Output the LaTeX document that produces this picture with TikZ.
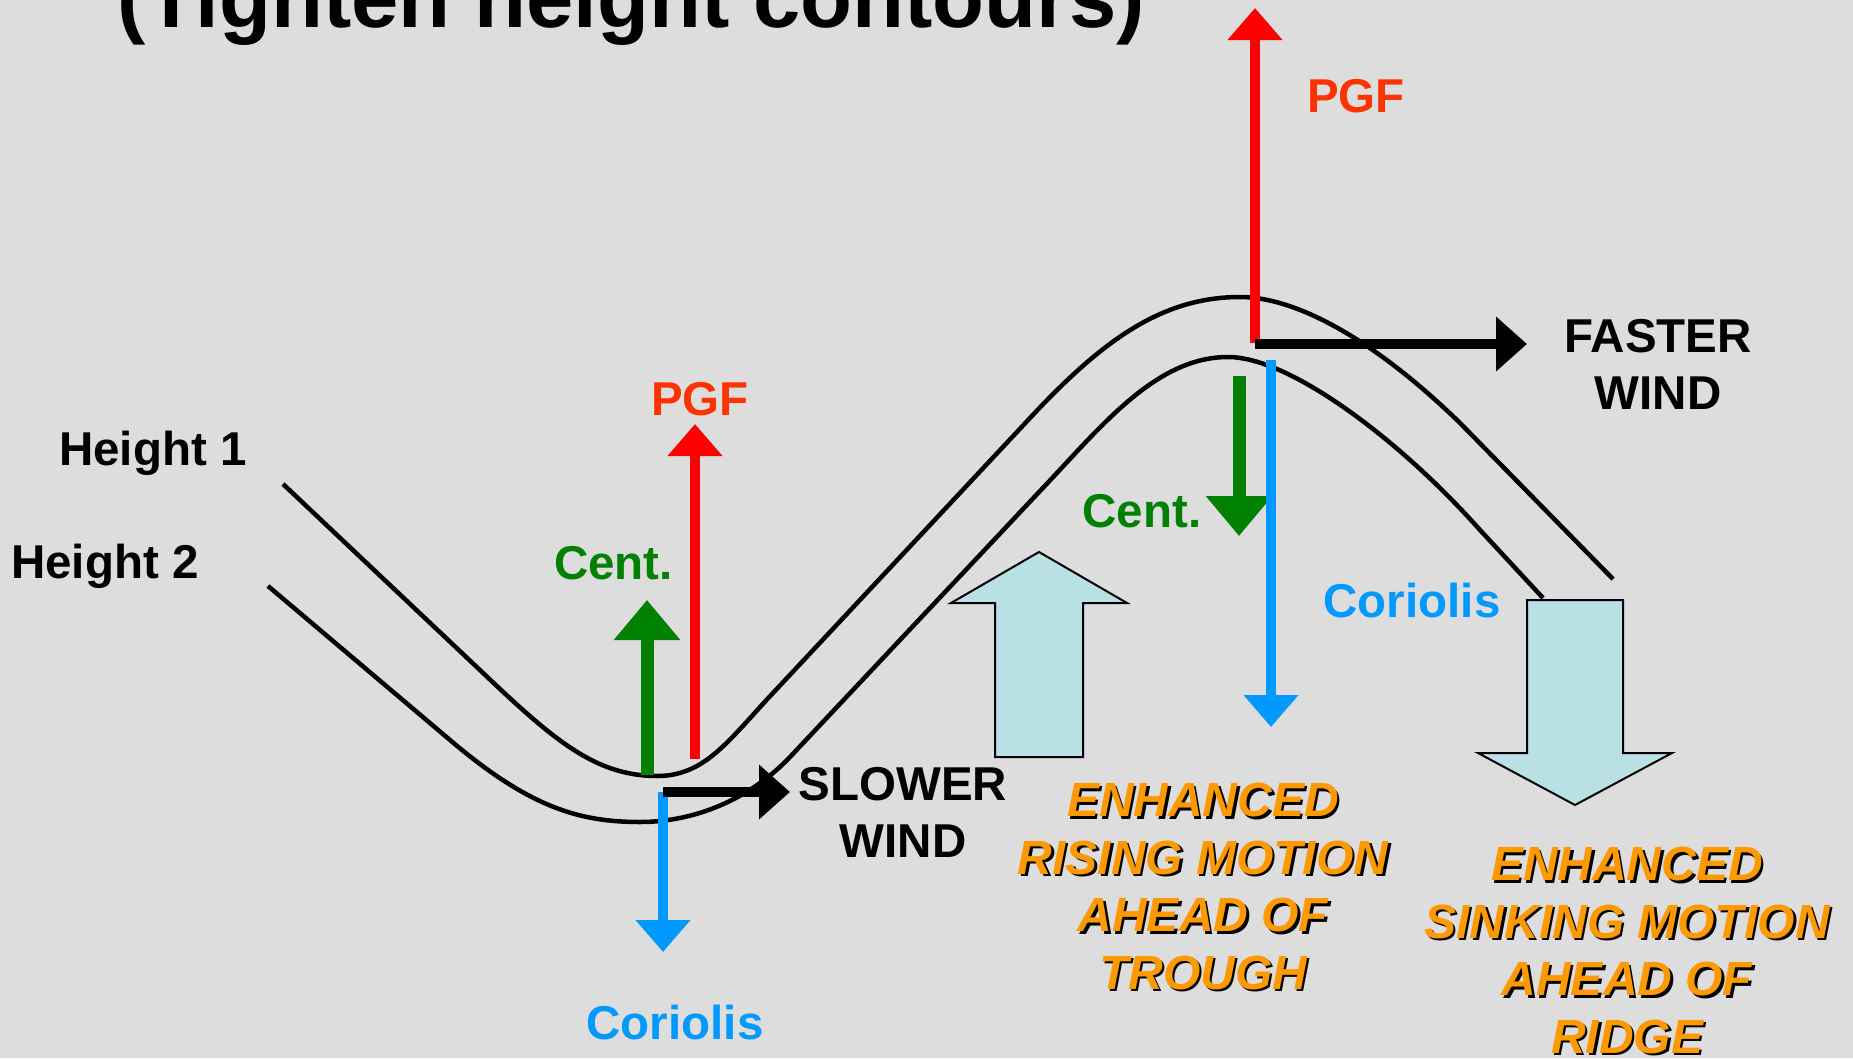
\documentclass[tikz,border=0pt]{standalone}
\usepackage{fontspec}
\setmainfont{Liberation Sans}
\usetikzlibrary{arrows.meta}

\definecolor{bggray}{HTML}{DDDDDD}
\definecolor{pgfred}{HTML}{FF0000}
\definecolor{pgftext}{HTML}{FF3300}
\definecolor{centgreen}{HTML}{008000}
\definecolor{corblue}{HTML}{0099FF}
\definecolor{motionorange}{HTML}{FF9900}
\definecolor{blockcyan}{HTML}{B9E0E4}

\begin{document}
\begin{tikzpicture}[x=1pt,y=-1pt,
  contour/.style={line width=4.5pt, line join=round, line cap=butt},
  lbl/.style={inner sep=0pt, font=\fontsize{47.5}{57.5}\selectfont\bfseries},
  force/.style={line width=10pt, line cap=butt, -{Triangle[length=32pt,width=53pt]}},
  bigforce/.style={line width=13pt, line cap=butt, -{Triangle[length=40pt,width=64pt]}},
  wind/.style={line width=10pt, line cap=butt, draw=black, -{Triangle[length=31pt,width=53pt]}},
  block/.style={draw=black, line width=2pt, fill=blockcyan, line join=miter},
  motion/.style={inner sep=0pt, align=center, text=motionorange,
    font=\fontsize{48}{57.5}\selectfont\bfseries\itshape},
  motionshadow/.style={motion, text=black},
]
% canvas
\fill[bggray] (0,0) rectangle (1853,1058);
\useasboundingbox (0,0) rectangle (1853,1058);

% title (partly above the top edge)
\node[anchor=base west, inner sep=0pt, font=\fontsize{85}{100}\selectfont\bfseries]
  (title) at (117,27) {(Tighten height contours)};

% height contours
\draw[contour] (283,484) -- (500,689)
  .. controls (560,745) and (600,776) .. (657,776)
  .. controls (705,776) and (728,741) .. (773,693)
  -- (1030,418)
  .. controls (1100,343) and (1160,297) .. (1240,297)
  .. controls (1300,297) and (1380,345) .. (1460,423)
  -- (1613,579);
\draw[contour] (268,586) -- (450,740)
  .. controls (530,808) and (580,822) .. (640,822)
  .. controls (700,822) and (754,795) .. (790,757)
  -- (1040,491)
  .. controls (1100,428) and (1155,357) .. (1228,357)
  .. controls (1290,357) and (1400,440) .. (1480,530)
  -- (1543,598);

\node[lbl, anchor=base west] (h1) at (59,465) {Height 1};
\node[lbl, anchor=base west] (h2) at (11,578) {Height 2};

% vertical motion block arrows
\draw[block] (1039,552) -- (1127,603) -- (1083,603) -- (1083,757) -- (995,757)
  -- (995,603) -- (951,603) -- cycle;
\draw[block] (1527,600) -- (1623,600) -- (1623,753) -- (1672,753) -- (1575,805)
  -- (1478,753) -- (1527,753) -- cycle;

% forces in the trough
\coordinate (tc0) at (647,775);  \coordinate (tc1) at (647,600);
\coordinate (tp0) at (695,759);  \coordinate (tp1) at (695,424);
\coordinate (tk0) at (663,792);  \coordinate (tk1) at (663,952);
\coordinate (tw1) at (790,792);
\draw[bigforce, draw=centgreen, centgreen] (tc0) -- (tc1);
\draw[force, draw=pgfred, pgfred] (tp0) -- (tp1);
\draw[force, draw=corblue, corblue] (tk0) -- (tk1);
\draw[wind] (tk0) -- (tw1);

% forces at the ridge
\coordinate (rp0) at (1255,343); \coordinate (rp1) at (1255,8);
\coordinate (rw0) at (1255,344); \coordinate (rw1) at (1527,344);
\coordinate (rc0) at (1239,376); \coordinate (rc1) at (1239,536);
\coordinate (rk0) at (1271,360); \coordinate (rk1) at (1271,727);
\draw[force, draw=pgfred, pgfred] (rp0) -- (rp1);
\draw[wind] (rw0) -- (rw1);
\draw[bigforce, draw=centgreen, centgreen] (rc0) -- (rc1);
\draw[force, draw=corblue, corblue] (rk0) -- (rk1);

% force labels
\node[lbl, anchor=base, text=pgftext] (tpgf) at (700,415) {PGF};
\node[lbl, anchor=base west, text=centgreen] (tcent) at (554,579) {Cent.};
\node[lbl, anchor=base, text=corblue] (tcor) at (675,1039) {Coriolis};
\node[lbl, anchor=north, align=center] (slow) at (903,767) {SLOWER\\WIND};

\node[lbl, anchor=base, text=pgftext] (rpgf) at (1356,112) {PGF};
\node[lbl, anchor=base, text=centgreen] (rcent) at (1142,527) {Cent.};
\node[lbl, anchor=base, text=corblue] (rcor) at (1412,617) {Coriolis};
\node[lbl, anchor=north, align=center] (fast) at (1658,319) {FASTER\\WIND};

% vertical motion captions with drop shadow
\node[motionshadow, anchor=north] (riseshadow) at (1205.5,785.5)
  {ENHANCED\\RISING MOTION\\AHEAD OF\\TROUGH};
\node[motion, anchor=north] (rise) at (1203,783)
  {ENHANCED\\RISING MOTION\\AHEAD OF\\TROUGH};
\node[motionshadow, anchor=north] (sinkshadow) at (1629.5,849.5)
  {ENHANCED\\SINKING MOTION\\AHEAD OF\\RIDGE};
\node[motion, anchor=north] (sink) at (1627,847)
  {ENHANCED\\SINKING MOTION\\AHEAD OF\\RIDGE};
\end{tikzpicture}
\end{document}
